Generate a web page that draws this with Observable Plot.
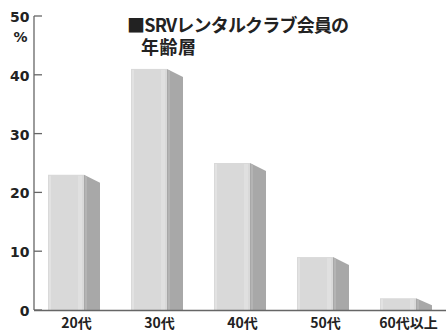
<!DOCTYPE html>
<html>
<head>
<meta charset="utf-8">
<script src="https://cdn.jsdelivr.net/npm/d3@7"></script>
<script src="https://cdn.jsdelivr.net/npm/@observablehq/plot@0.6"></script>
<style>
  html, body { margin: 0; padding: 0; background: #fff; }
  #chart { position: relative; width: 446px; height: 333px; }
  .title {
    position: absolute; left: 127px; height: 21px;
    font-family: "Noto Sans CJK JP", sans-serif; font-weight: 700;
    font-size: 18px; line-height: 21px; color: #222; white-space: nowrap;
  }
  .title.l1 { top: 14px; letter-spacing: -0.8px; }
  .title.l2 { top: 36px; left: 141px; letter-spacing: 0.5px; }
  #chart svg { position: absolute; left: 0; top: 0; }
</style>
</head>
<body>
<div id="chart">
  <div class="title l1">■SRVレンタルクラブ会員の</div>
  <div class="title l2">年齢層</div>
</div>
<script>
// Age brackets of SRV rental club members (%)
const ageGroups = ["20代", "30代", "40代", "50代", "60代以上"];
const shares = [23, 41, 25, 9, 2];
const yTicks = [0, 10, 20, 30, 40, 50];

const data = ageGroups.map((g, i) => ({group: g, share: shares[i]}));

const W = 446, H = 333;
const depth = 16, drop = 8;   // side-face width and slant of the extruded bars

// Right-hand shaded face of each bar, drawn from the same x/y scales
function sideFaces(index, scales) {
  const g = d3.create("svg:g");
  const bw = scales.x.bandwidth();
  for (const i of index) {
    const d = data[i];
    const x0 = scales.x(d.group) + bw;
    const yTop = scales.y(d.share);
    const yBase = scales.y(0);
    const slant = Math.min(drop, (yBase - yTop) * 0.6);
    g.append("path")
      .attr("d", `M${x0},${yTop}L${x0 + depth},${yTop + slant}L${x0 + depth},${yBase}L${x0},${yBase}Z`)
      .attr("fill", "#a8a8a8");
    g.append("path")
      .attr("d", `M${x0 + 1},${yTop + 1}L${x0 + 3},${yTop + 2}L${x0 + 3},${yBase}L${x0 + 1},${yBase}Z`)
      .attr("fill", "#b4b4b4");
  }
  return g.node();
}

// Soft highlight strips on each front face
function frontHighlight(index, scales) {
  const g = d3.create("svg:g");
  const bw = scales.x.bandwidth();
  for (const i of index) {
    const d = data[i];
    const x = scales.x(d.group);
    const yTop = scales.y(d.share);
    const yBase = scales.y(0);
    g.append("rect").attr("x", x + 1).attr("y", yTop + 1).attr("width", 2)
      .attr("height", yBase - yTop - 1).attr("fill", "#e2e2e2");
    g.append("rect").attr("x", x + bw - 6).attr("y", yTop + 1).attr("width", 4)
      .attr("height", yBase - yTop - 1).attr("fill", "#e0e0e0");
  }
  return g.node();
}

// Vertical axis line and inward-pointing ticks
function yAxisLine(index, scales, values, dims) {
  const g = d3.create("svg:g").attr("stroke", "#666").attr("stroke-width", 1.3);
  const x0 = dims.marginLeft;
  g.append("line").attr("x1", x0).attr("x2", x0)
    .attr("y1", scales.y(0)).attr("y2", scales.y(50));
  for (const t of yTicks) {
    g.append("line").attr("x1", x0).attr("x2", x0 + 8)
      .attr("y1", scales.y(t)).attr("y2", scales.y(t));
  }
  return g.node();
}

const chart = Plot.plot({
  width: W,
  height: H,
  marginLeft: 34,
  marginRight: 16,
  marginTop: 16,
  marginBottom: 23,
  style: {fontFamily: "'DejaVu Sans', sans-serif", background: "transparent"},
  x: {domain: ageGroups, paddingInner: 0.571, paddingOuter: 0.143, label: null},
  y: {domain: [0, 50], label: null, axis: null},
  marks: [
    Plot.barY(data, {x: "group", y: "share", fill: "#d9d9d9"}),
    Plot.barY(data, {x: "group", y: "share", render: frontHighlight}),
    Plot.barY(data, {x: "group", y: "share", render: sideFaces}),
    Plot.ruleY(yTicks, {y: d => d, render: yAxisLine}),
    Plot.ruleY([0], {stroke: "#666", strokeWidth: 1.3, insetRight: -16}),
    // y tick labels
    Plot.text(yTicks, {
      y: d => d, text: d => String(d), frameAnchor: "left", textAnchor: "end",
      dx: -5, dy: 1, fontSize: 14, fontWeight: "bold", fill: "#222", fontFamily: "DejaVu Sans"
    }),
    Plot.text(["%"], {frameAnchor: "top-left", dx: -7, dy: 16, fontSize: 14, fontWeight: "bold", fill: "#222", textAnchor: "end", fontFamily: "DejaVu Sans"}),
    Plot.axisX({
      tickSize: 0, tickPadding: 8, dx: 10,
      fontSize: 14, fontWeight: "bold", fill: "#222",
      fontFamily: "'Noto Sans CJK JP', sans-serif"
    })
  ]
});

document.getElementById("chart").appendChild(chart);
</script>
</body>
</html>
